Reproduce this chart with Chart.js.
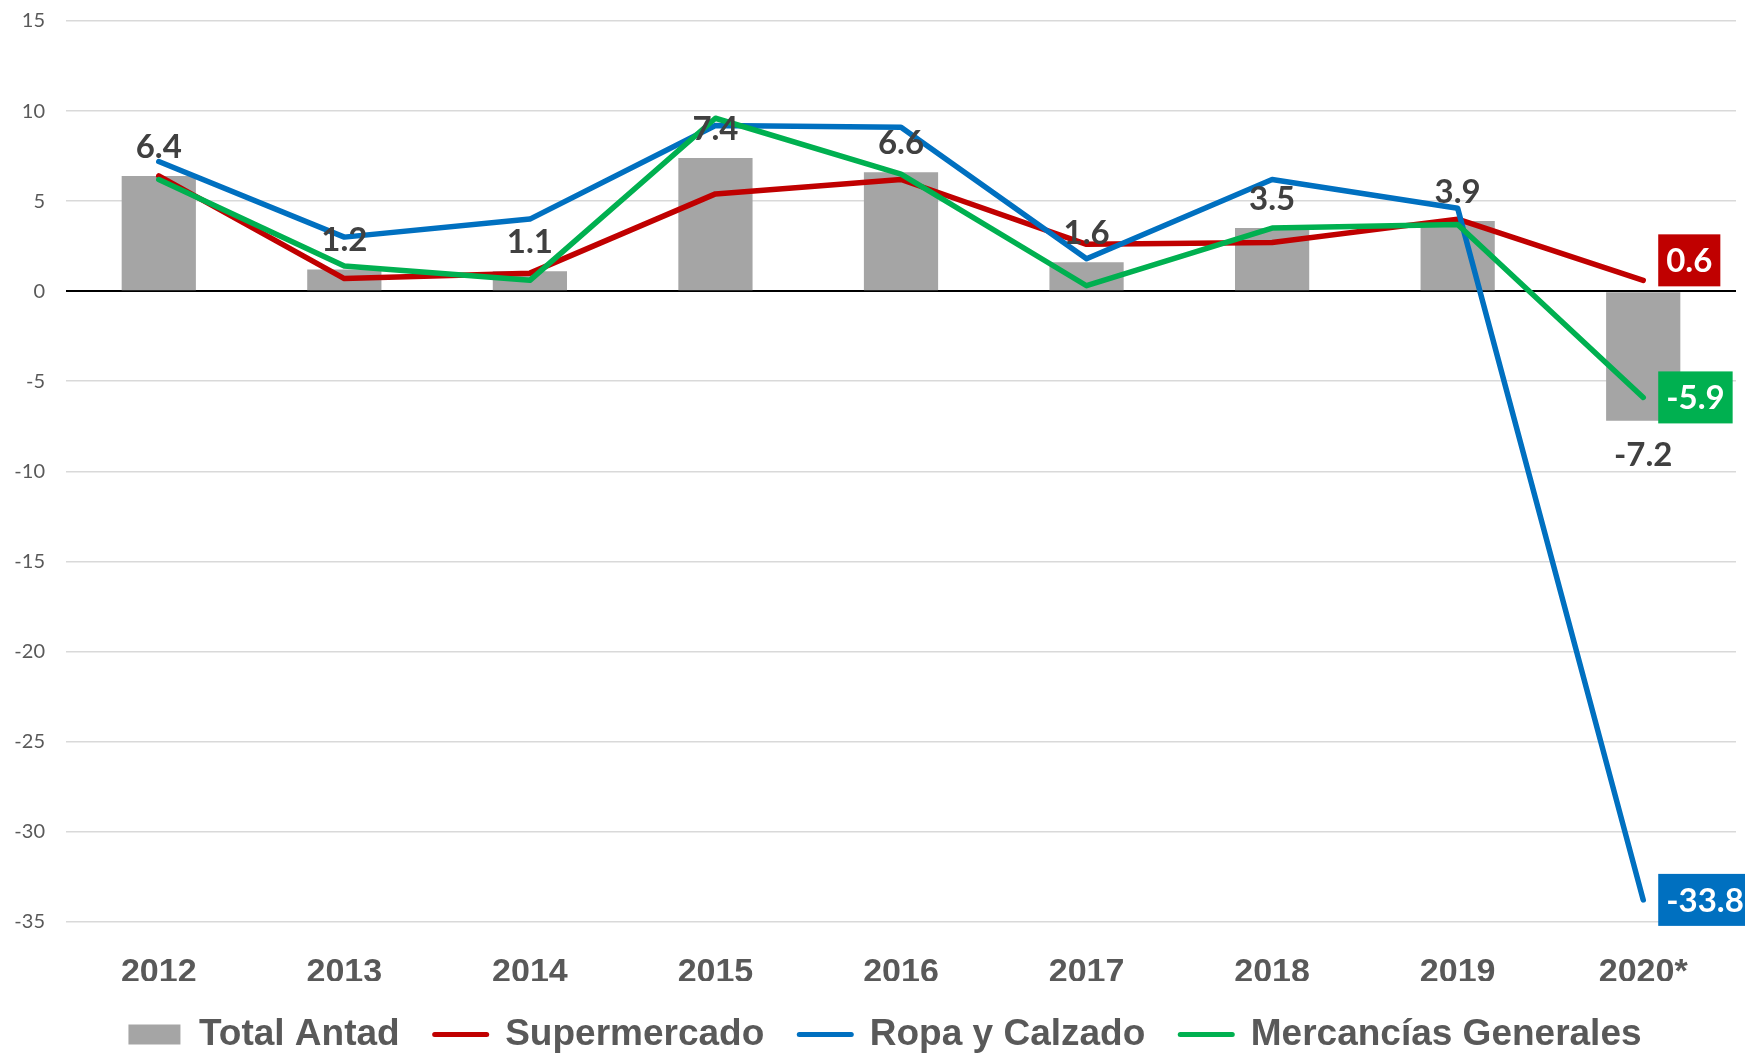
<!DOCTYPE html>
<html>
<head>
<meta charset="utf-8">
<script src="https://cdn.jsdelivr.net/npm/chart.js@4.4.0/dist/chart.umd.min.js"></script>
<style>
    html, body { margin: 0; padding: 0; background: #fff; }
</style>
</head>
<body>
<canvas id="grafico" width="1745" height="1056"></canvas>
<script>
// Datos
const anos = ["2012", "2013", "2014", "2015", "2016", "2017", "2018", "2019", "2020*"];
const totalAntad = [6.4, 1.2, 1.1, 7.4, 6.6, 1.6, 3.5, 3.9, -7.2];
const supermercado = [6.4, 0.7, 1.0, 5.4, 6.2, 2.6, 2.7, 4.0, 0.6];
const ropaCalzado = [7.2, 3.0, 4.0, 9.2, 9.1, 1.8, 6.2, 4.6, -33.8];
const mercancias = [6.2, 1.4, 0.6, 9.6, 6.5, 0.3, 3.5, 3.7, -5.9];
const ejeMin = -35;
const ejeMax = 15;
const ejePaso = 5;

const GRIS = "#A5A5A5";
const ROJO = "#C00000";
const AZUL = "#0070C0";
const VERDE = "#00B050";
const TEXTO = "#595959";
const ALTO_LEYENDA = 75;

// Etiquetas sobre las barras (Total Antad)
const etiquetasBarras = {
    id: "etiquetasBarras",
    afterDatasetsDraw(chart) {
        const ctx = chart.ctx;
        const meta = chart.getDatasetMeta(0);
        const valores = chart.data.datasets[0].data;
        ctx.save();
        ctx.font = "bold 33px Lato";
        ctx.fillStyle = "#404040";
        ctx.textAlign = "center";
        ctx.textBaseline = "middle";
        meta.data.forEach((barra, i) => {
            const v = valores[i];
            const y = v >= 0 ? barra.y - 29 : barra.y + 35;
            ctx.fillText(v.toFixed(1), barra.x, y);
        });
        ctx.restore();
    }
};

// Cajas con el último valor de cada línea
const etiquetasFinales = {
    id: "etiquetasFinales",
    afterDatasetsDraw(chart) {
        const ctx = chart.ctx;
        ctx.save();
        ctx.font = "bold 33px Lato";
        ctx.textAlign = "left";
        ctx.textBaseline = "middle";
        [1, 2, 3].forEach(idx => {
            const ds = chart.data.datasets[idx];
            const meta = chart.getDatasetMeta(idx);
            const ult = meta.data.length - 1;
            const pt = meta.data[ult];
            const texto = ds.data[ult].toFixed(1);
            const ancho = ctx.measureText(texto).width + 16;
            const alto = 52;
            const x = pt.x + 15;
            const yc = pt.y + (ds.desplazarCaja || 0);
            ctx.fillStyle = ds.borderColor;
            ctx.fillRect(x, yc - alto / 2, ancho, alto);
            ctx.fillStyle = "#FFFFFF";
            ctx.fillText(texto, x + 8, yc + 1);
        });
        ctx.restore();
    }
};

// La leyenda ocupa menos alto que el que calcula Chart.js con padding grande
const leyendaCompacta = {
    id: "leyendaCompacta",
    afterInit(chart) {
        const lg = chart.legend;
        if (!lg) return;
        const fitOriginal = lg.fit.bind(lg);
        lg.fit = function () {
            fitOriginal();
            this.height = ALTO_LEYENDA;
        };
    },
    afterLayout(chart) {
        const lg = chart.legend;
        if (!lg) return;
        lg.left += 17;
        lg.right += 17;
    }
};

const ctx = document.getElementById("grafico");

new Chart(ctx, {
    type: "bar",
    data: {
        labels: anos,
        datasets: [
            {
                label: "Total Antad",
                data: totalAntad,
                backgroundColor: GRIS,
                categoryPercentage: 1,
                barPercentage: 0.4,
                order: 4
            },
            {
                label: "Supermercado",
                type: "line",
                data: supermercado,
                borderColor: ROJO,
                borderWidth: 5.5,
                pointRadius: 0,
                tension: 0,
                borderCapStyle: "round",
                borderJoinStyle: "round",
                desplazarCaja: -20,
                order: 3
            },
            {
                label: "Ropa y Calzado",
                type: "line",
                data: ropaCalzado,
                borderColor: AZUL,
                borderWidth: 5.5,
                pointRadius: 0,
                tension: 0,
                borderCapStyle: "round",
                borderJoinStyle: "round",
                order: 2
            },
            {
                label: "Mercancías Generales",
                type: "line",
                data: mercancias,
                borderColor: VERDE,
                borderWidth: 5.5,
                pointRadius: 0,
                tension: 0,
                borderCapStyle: "round",
                borderJoinStyle: "round",
                order: 1
            }
        ]
    },
    options: {
        responsive: false,
        animation: false,
        layout: { padding: { top: 21, right: 9, left: 0, bottom: 0 } },
        scales: {
            x: {
                grid: { display: false, drawTicks: false },
                border: { display: false },
                ticks: {
                    color: TEXTO,
                    font: { family: "Liberation Sans", size: 34, weight: "bold" },
                    padding: 31
                },
                afterFit: (scale) => { scale.height = 59.5; }
            },
            y: {
                min: ejeMin,
                max: ejeMax,
                ticks: {
                    stepSize: ejePaso,
                    color: TEXTO,
                    font: { family: "Lato", size: 20 },
                    padding: 21
                },
                grid: {
                    drawTicks: false,
                    color: (c) => c.tick && c.tick.value === 0 ? "#000000" : "#D9D9D9",
                    lineWidth: (c) => c.tick && c.tick.value === 0 ? 2 : 1.5
                },
                border: { display: false },
                afterFit: (scale) => {
                    scale.width = 66;
                    scale.paddingTop = 0;
                    scale.paddingBottom = 0;
                }
            }
        },
        plugins: {
            tooltip: { enabled: false },
            legend: {
                position: "bottom",
                labels: {
                    usePointStyle: true,
                    pointStyleWidth: 52,
                    boxHeight: 20,
                    padding: 35,
                    color: TEXTO,
                    font: { family: "Liberation Sans", size: 37, weight: "bold" },
                    generateLabels: (chart) => chart.data.datasets.map((ds, i) => ({
                        text: ds.label,
                        datasetIndex: i,
                        fillStyle: i === 0 ? GRIS : ds.borderColor,
                        strokeStyle: i === 0 ? GRIS : ds.borderColor,
                        lineWidth: i === 0 ? 0 : 5,
                        lineCap: "round",
                        pointStyle: i === 0 ? "rect" : "line",
                        fontColor: TEXTO,
                        hidden: false
                    }))
                }
            }
        }
    },
    plugins: [etiquetasBarras, etiquetasFinales, leyendaCompacta]
});
</script>
</body>
</html>
